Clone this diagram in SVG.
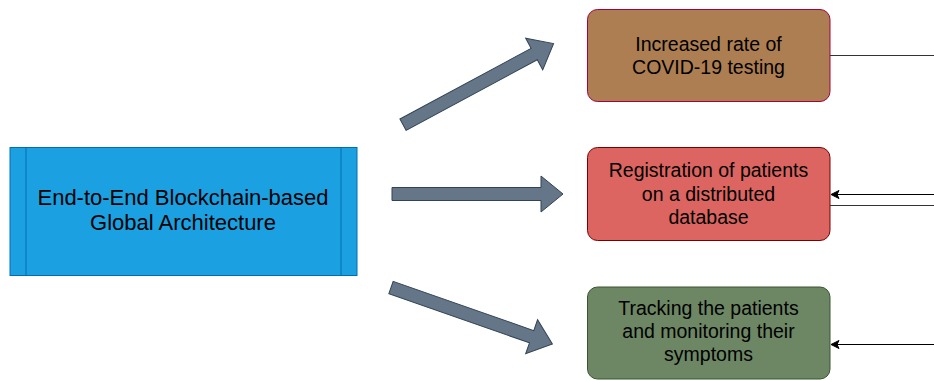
<svg xmlns="http://www.w3.org/2000/svg" width="934" height="380" viewBox="0 0 934 380">
<defs>
<marker id="arr" markerWidth="10" markerHeight="10" refX="9" refY="5" orient="auto" markerUnits="userSpaceOnUse">
<path d="M1,1 L9,5 L1,9 L3,5 Z" fill="#000" stroke="#000" stroke-width="1"/>
</marker>
<polygon id="barrow" points="0,-6.5 149,-6.5 149,-18 171,0 149,18 149,6.5 0,6.5"/>
</defs>
<style>
text{font-family:"Liberation Sans",Arial,sans-serif;fill:#000;text-anchor:middle}
.big{font-size:22px}
.n{font-size:19.5px}
.ba{fill:#647687;stroke:#314354;stroke-width:1}
.line{fill:none;stroke:#333;stroke-width:1}
.conn{fill:none;stroke:#000;stroke-width:1}
</style>
<rect width="934" height="380" fill="#fff"/>
<g id="main">
<rect x="10" y="147.5" width="347" height="128" fill="#1BA1E2" stroke="#006EAF" stroke-width="1"/>
<line x1="26" y1="147.5" x2="26" y2="275.5" stroke="#006EAF"/>
<line x1="341" y1="147.5" x2="341" y2="275.5" stroke="#006EAF"/>
<text class="big" x="183" y="205">End-to-End Blockchain-based</text>
<text class="big" x="183" y="229.5">Global Architecture</text>
</g>
<g id="node1">
<rect x="587.5" y="9.5" width="242.5" height="92" rx="10" fill="#AD7E51" stroke="#A50040" stroke-width="1"/>
<text class="n" x="708.5" y="51">Increased rate of</text>
<text class="n" x="708.5" y="74">COVID-19 testing</text>
</g>
<g id="node2">
<rect x="587.5" y="147.5" width="242.5" height="93" rx="10" fill="#DC6561" stroke="#7A0000" stroke-width="1"/>
<text class="n" x="708.5" y="177">Registration of patients</text>
<text class="n" x="708.5" y="200.5">on a distributed</text>
<text class="n" x="708.5" y="223.5">database</text>
</g>
<g id="node3">
<rect x="587.5" y="287" width="242.5" height="92" rx="10" fill="#6D8764" stroke="#3A5431" stroke-width="1"/>
<text class="n" x="708.5" y="315">Tracking the patients</text>
<text class="n" x="708.5" y="338">and monitoring their</text>
<text class="n" x="708.5" y="361">symptoms</text>
</g>
<g id="connectors">
<use href="#barrow" class="ba" transform="translate(403,124.7) rotate(-28.3)"/>
<use href="#barrow" class="ba" transform="translate(392,194)"/>
<use href="#barrow" class="ba" transform="translate(391,287.5) rotate(19.3)"/>
<line class="line" x1="830" y1="55.5" x2="934" y2="55.5"/>
<line class="conn" x1="934" y1="194.5" x2="831" y2="194.5" marker-end="url(#arr)"/>
<line class="line" x1="830" y1="205.5" x2="934" y2="205.5"/>
<line class="conn" x1="934" y1="344.5" x2="831" y2="344.5" marker-end="url(#arr)"/>
</g>
</svg>
